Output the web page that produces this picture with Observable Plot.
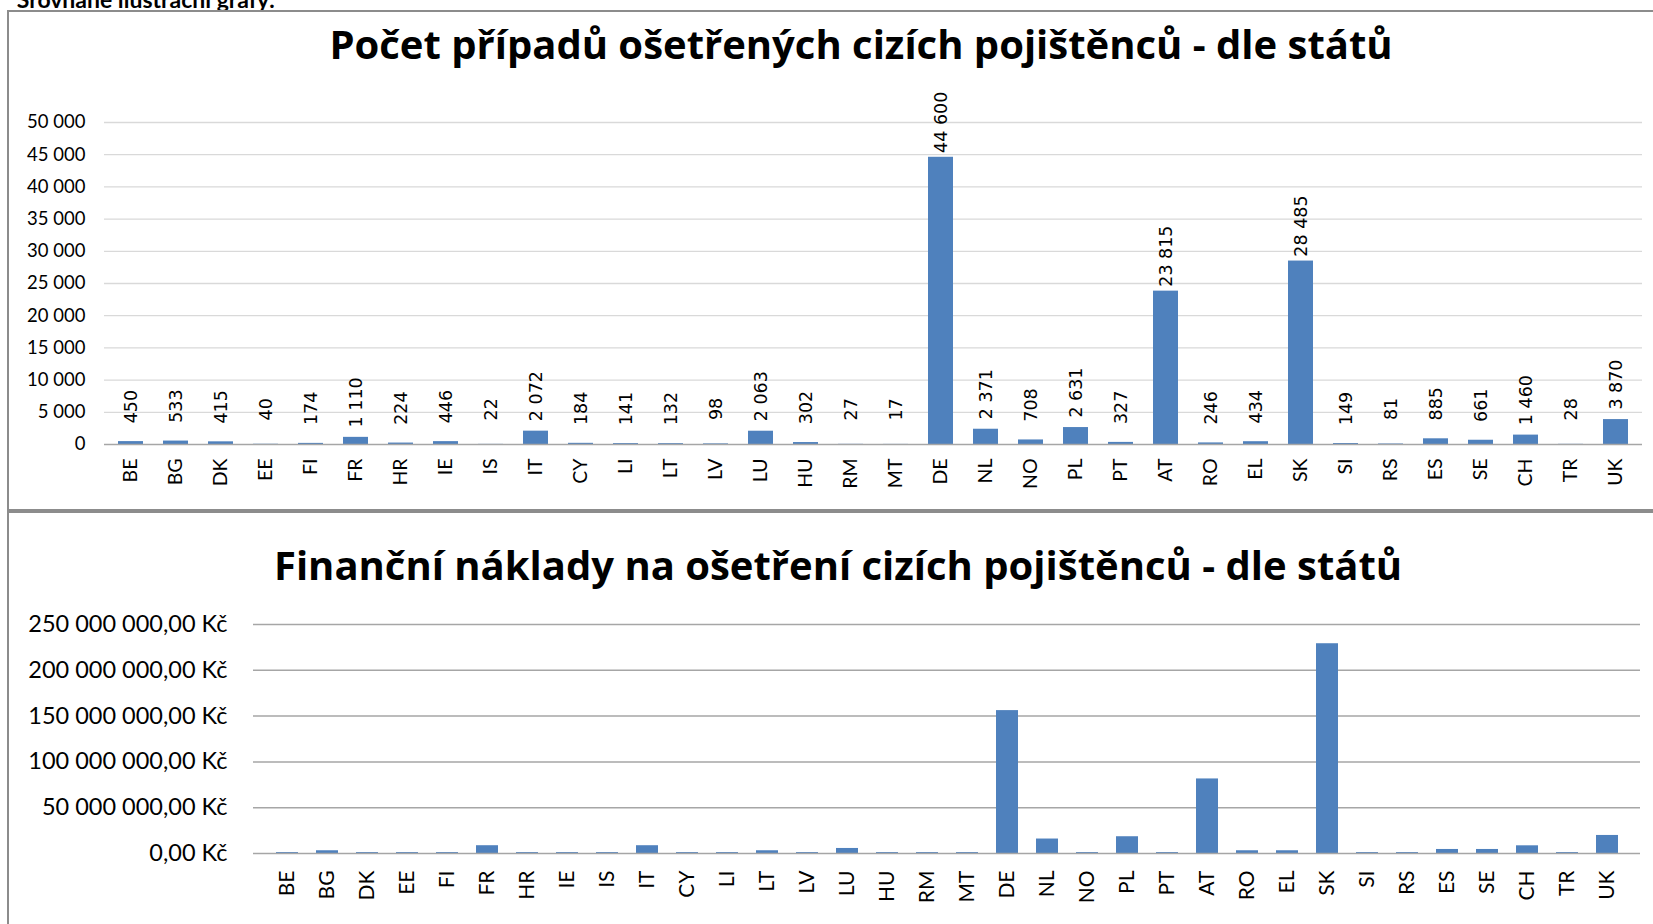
<!DOCTYPE html>
<html><head><meta charset="utf-8">
<script src="https://cdn.jsdelivr.net/npm/d3@7"></script>
<script src="https://cdn.jsdelivr.net/npm/@observablehq/plot@0.6"></script>
<style>
html,body{margin:0;padding:0;background:#fff;}
#page{position:relative;width:1653px;height:924px;overflow:hidden;font-family:Lato,"Open Sans",sans-serif;color:#000;}
.box{position:absolute;left:7px;width:1700px;border:2.5px solid #8c8c8c;box-sizing:border-box;}
#box1{top:10px;height:501px;}
#box2{top:511px;height:430px;}
.title{position:absolute;font-family:"Open Sans",Lato,sans-serif;font-weight:700;font-size:40px;white-space:nowrap;transform:translateX(-50%);line-height:1;}
#caption{position:absolute;right:1378px;top:-12px;font-weight:700;font-size:23px;line-height:1;white-space:nowrap;}
.chart{position:absolute;left:0;}
</style>
</head><body>
<div id="page">
  <div id="caption">Srovnané ilustrační grafy:</div>
  <div class="box" id="box1"></div>
  <div class="box" id="box2"></div>
  <div class="title" id="t1" style="left:861px;top:24px;">Počet případů ošetřených cizích pojištěnců - dle států</div>
  <div class="title" id="t2" style="left:838px;top:545px;">Finanční náklady na ošetření cizích pojištěnců - dle států</div>
  <div class="chart" id="c1" style="top:0px;"></div>
  <div class="chart" id="c2" style="top:511px;"></div>
</div>
<script>
const countries = ["BE","BG","DK","EE","FI","FR","HR","IE","IS","IT","CY","LI","LT","LV","LU","HU","RM","MT","DE","NL","NO","PL","PT","AT","RO","EL","SK","SI","RS","ES","SE","CH","TR","UK"];
const cases = [450,533,415,40,174,1110,224,446,22,2072,184,141,132,98,2063,302,27,17,44600,2371,708,2631,327,23815,246,434,28485,149,81,885,661,1460,28,3870];
// costs in millions of Kč
const costsMil = [1,3,1,1,1,8.5,1,1,1,8.5,1,1,3,1,5.5,1,1,1,156,15.8,1,18.3,1,81.4,3,3,229,1,1,4.4,4.4,8.4,1,19.7];
const casesTicks = [0,5000,10000,15000,20000,25000,30000,35000,40000,45000,50000];
const costTicks = [0,50000000,100000000,150000000,200000000,250000000];

const data = countries.map((c,i)=>({country:c, cases:cases[i], cost:costsMil[i]*1e6}));
const loc = d3.formatLocale({decimal:",", thousands:"\u00a0", grouping:[3], currency:["","\u00a0Kč"]});
const fmtInt = loc.format(",d");
const fmtKc = loc.format("$,.2f");
const BLUE = "#4f81bd";

const p1 = Plot.plot({
  width:1653, height:507,
  marginLeft:104, marginRight:11, marginTop:122, marginBottom:63,
  style:{background:"transparent", overflow:"visible", fontFamily:"Lato", fontSize:"18px", color:"#000"},
  x:{type:"band", domain:countries, paddingInner:0.44, paddingOuter:0.22, axis:null},
  y:{domain:[0,50000], axis:null},
  marks:[
    Plot.ruleY(casesTicks.filter(t=>t>0), {stroke:"#d9d9d9", strokeWidth:1.3}),
    Plot.barY(data,{x:"country", y:"cases", fill:BLUE}),
    Plot.ruleY([0],{stroke:"#a6a6a6", strokeWidth:1.5}),
    Plot.axisY({ticks:casesTicks, tickSize:0, tickPadding:19, tickFormat:fmtInt, fontSize:18.5, fill:"#000", label:null}),
    Plot.axisX({tickRotate:-90, tickSize:0, tickPadding:14, fontSize:19.5, fill:"#000", label:null}),
    Plot.text(data,{x:"country", y:"cases", text:d=>fmtInt(d.cases), rotate:-90, dy:-35, fontSize:17.5, fontFamily:"DejaVu Sans", textAnchor:"middle", fill:"#000"})
  ]
});
document.getElementById("c1").appendChild(p1);

const p2 = Plot.plot({
  width:1653, height:412,
  marginLeft:253, marginRight:13, marginTop:113, marginBottom:70,
  style:{background:"transparent", overflow:"visible", fontFamily:"Lato", fontSize:"21px", color:"#000"},
  x:{type:"band", domain:countries, paddingInner:0.45, paddingOuter:0.225, axis:null},
  y:{domain:[0,250000000], axis:null},
  marks:[
    Plot.ruleY(costTicks.filter(t=>t>0), {stroke:"#a6a6a6", strokeWidth:1.5}),
    Plot.barY(data,{x:"country", y:"cost", fill:BLUE}),
    Plot.ruleY([0],{stroke:"#a6a6a6", strokeWidth:1.5}),
    Plot.axisY({ticks:costTicks, tickSize:0, tickPadding:26, tickFormat:fmtKc, fontSize:23.5, fill:"#000", label:null}),
    Plot.axisX({tickRotate:-90, tickSize:0, tickPadding:17, fontSize:21, fill:"#000", label:null})
  ]
});
document.getElementById("c2").appendChild(p2);
</script>
</body></html>
